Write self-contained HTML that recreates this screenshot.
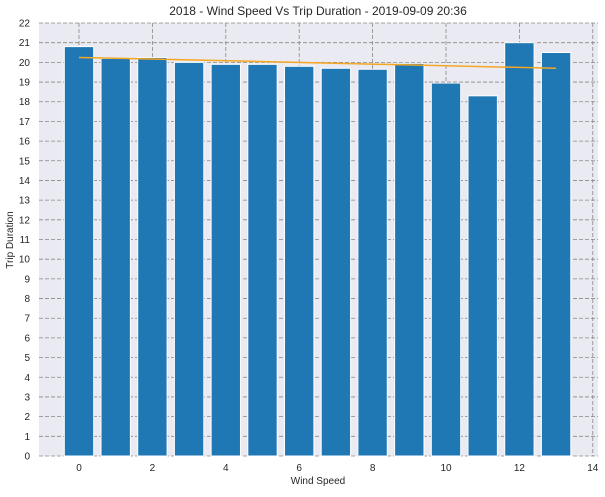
<!DOCTYPE html>
<html><head><meta charset="utf-8"><style>
body{margin:0;background:#fff;font-family:"Liberation Sans",sans-serif;}
svg text{font-family:"Liberation Sans",sans-serif;fill:#262626;}
</style></head><body>
<svg width="605" height="492">
<text x="318" y="15" font-size="12" text-anchor="middle">2018 - Wind Speed Vs Trip Duration - 2019-09-09 20:36</text>
<rect x="39" y="23" width="559" height="433" fill="#eaeaf2"/>
<g id="grid"></g><g id="bars"></g><g id="trend"></g><g id="ticks"></g>
<text x="318" y="484" font-size="10" text-anchor="middle">Wind Speed</text>
<text x="13" y="240" font-size="10" text-anchor="middle" transform="rotate(-90 13 240)">Trip Duration</text>
</svg>
<script>
const categories=[0,1,2,3,4,5,6,7,8,9,10,11,12,13];
const durations=[20.8,20.2,20.25,20.0,19.9,19.9,19.8,19.7,19.65,19.95,18.95,18.3,21.0,20.5];
const trendStart=20.25, trendEnd=19.7;
const xTicks=[0,2,4,6,8,10,12,14];
const yTicks=[0,1,2,3,4,5,6,7,8,9,10,11,12,13,14,15,16,17,18,19,20,21,22];
const NS="http://www.w3.org/2000/svg";
const X=v=>79+v*36.7, Y=v=>456-v*(433/22);
function mk(t,a,p){const e=document.createElementNS(NS,t);for(const k in a)e.setAttribute(k,a[k]);document.getElementById(p).appendChild(e);return e;}
yTicks.forEach(v=>{
 const l=mk('line',{x1:39,x2:598,y1:Y(v),y2:Y(v),stroke:'#888',"stroke-dasharray":'4,2',"stroke-width":0.8},'grid');
 
 
 const t=mk('text',{x:30,y:Y(v)+3.5,"font-size":10,"text-anchor":'end'},'ticks');t.textContent=v;
 
 
});
xTicks.forEach(v=>{
 const l=mk('line',{x1:X(v),x2:X(v),y1:23,y2:456,stroke:'#888',"stroke-dasharray":'4,2',"stroke-width":0.8},'grid');
 
 
 const t=mk('text',{x:X(v),y:471,"font-size":10,"text-anchor":'middle'},'ticks');t.textContent=v;
 
 
});
categories.forEach((c,i)=>{
 const w=0.8*36.7;
 const r=mk('rect',{x:X(c)-w/2,y:Y(durations[i]),width:w,height:Y(0)-Y(durations[i]),fill:'#1f77b4',stroke:'#fff',"stroke-width":1},'bars');
 
 
});
const tl=mk('line',{x1:X(categories[0]),x2:X(categories[categories.length-1]),y1:Y(trendStart),y2:Y(trendEnd),stroke:'#f5a623',"stroke-width":1.5},'trend');


</script>
</body></html>
